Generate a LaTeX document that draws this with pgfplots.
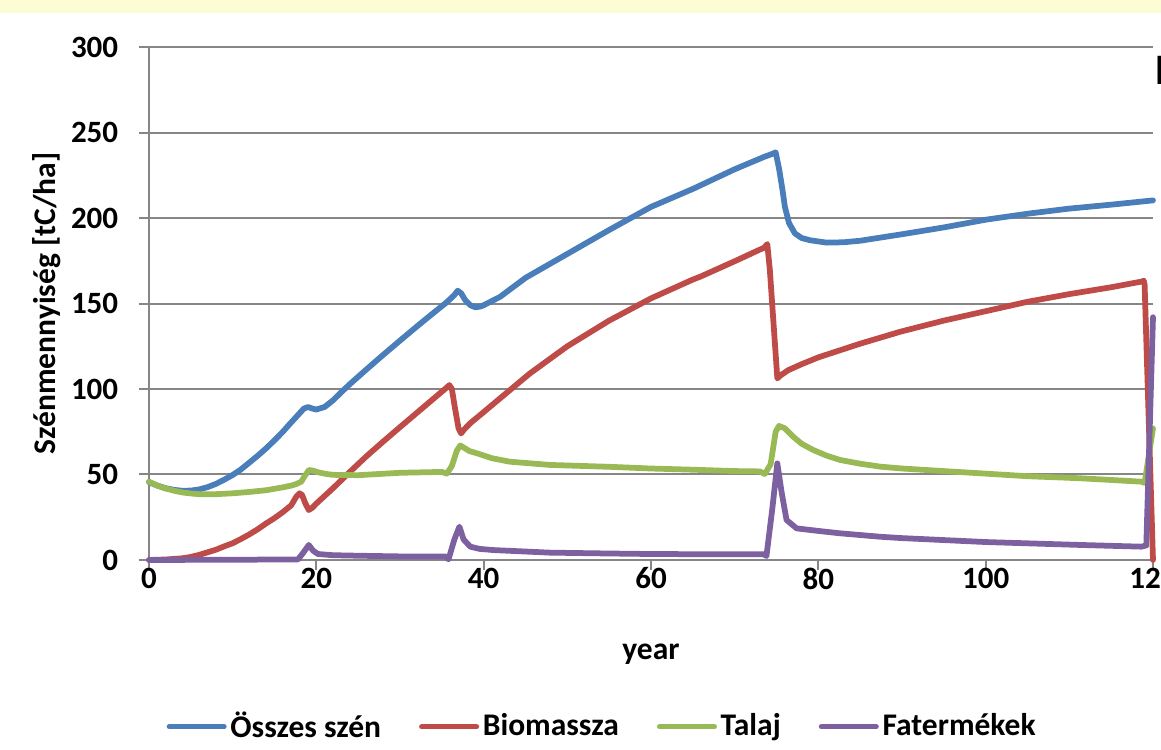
\documentclass[border=0pt]{standalone}
\usepackage{pgfplots}
\pgfplotsset{compat=1.18}
\usepackage{fontspec}
\setmainfont{Carlito}
\definecolor{cBlue}{RGB}{74,126,187}
\definecolor{cRed}{RGB}{190,75,72}
\definecolor{cGreen}{RGB}{152,185,84}
\definecolor{cPurple}{RGB}{125,96,160}
\definecolor{cGrid}{RGB}{134,134,134}
\definecolor{cBand}{RGB}{252,253,213}
\begin{document}
\begin{tikzpicture}
\path[use as bounding box] (-59.6pt,-76pt) rectangle (404.8pt,224pt);
\fill[cBand] (-59.6pt,218.8pt) rectangle (404.8pt,224pt);
\begin{axis}[
  at={(0pt,0pt)}, anchor=south west,
  width=401.6pt, height=205.2pt, scale only axis,
  xmin=0, xmax=120, ymin=0, ymax=300,
  xtick={0,20,...,120}, ytick={0,50,...,300},
  axis lines=left, axis line style={-, draw=cGrid, line width=0.8pt},
  ymajorgrids, grid style={cGrid, line width=0.8pt},
  tick align=outside, major tick length=4pt,
  tick style={cGrid, line width=0.8pt},
  ticklabel style={font=\bfseries\fontsize{12.4}{14}\selectfont},
  yticklabel style={xshift=-4.8pt},
  xticklabel style={yshift=4.4pt},
  /pgf/number format/assume math mode=true,
  clip=false,
  legend columns=4,
  legend style={at={(axis description cs:0.4504,-0.325)}, anchor=center,
    draw=none, fill=none,
    font=\bfseries\fontsize{12.6}{14}\selectfont,
    nodes={inner xsep=0pt, inner ysep=2pt},
    /tikz/every odd column/.append style={column sep=1.5pt},
    /tikz/every even column/.append style={column sep=15.2pt}},
  legend image code/.code={\draw[#1, line width=2pt, line cap=round] (0pt,0pt) -- (22pt,0pt);},
  every axis plot/.append style={line width=2.3pt, line join=round, line cap=round},
]
% Osszes szen
\addplot[cBlue] coordinates {
(0,45.5) (1,43.5) (2,42) (3,41) (4,40.5) (5,40.6) (6,41.3) (7,42.6) (8,44.5) (9,47)
(10,49.7) (11,53) (12,57) (13,61) (14,65.3) (15,70) (16,75) (17,80.5) (18,85.8)
(18.5,88.5) (19,89.5) (19.5,88.6) (20,88) (21,89.5) (22,93.4) (23,98.2) (24,102.8)
(26,111.5) (28,120) (30,128.3) (32,136.5) (34,144.5) (35.4,150) (36,152.6) (36.5,155)
(36.9,157.5) (37.3,156) (37.8,152) (38.4,149) (39,147.8) (39.6,148.2) (40,149)
(42,154) (45,165) (50,179) (55,193) (60,206.5) (65,217) (66,219.3) (70,228.5)
(73.6,235.9) (74.5,237.5) (74.9,238.4) (75.3,229) (75.7,217) (76,206.6) (76.5,197)
(77.2,191) (78,188.3) (79,187) (81,185.6) (83,185.8) (85,186.7) (90,190.5)
(95,194.5) (100,199) (105,202.5) (110,205.5) (115,207.8) (120,210.3)
};
\addlegendentry{Összes szén}
% Biomassza
\addplot[cRed] coordinates {
(0,0) (2,0.3) (4,1) (5,1.8) (6,3) (7,4.5) (8,6) (9,8) (10,9.8) (11,12.3) (12,15)
(13,18) (14,21.4) (15,24.5) (16,28) (17,32) (17.6,37) (18,39) (18.3,38) (18.7,33)
(19.1,29.2) (19.5,30.5) (20,33) (22,42) (24,51.5) (26,60.7) (28,69.3) (30,77.7)
(32,86) (34,94.3) (35.5,100.5) (35.9,102.3) (36.2,100) (36.6,88) (37,77) (37.3,74)
(37.7,76.5) (38.4,80) (40,86.5) (42,94.7) (45.5,109) (50,125) (55,140) (60,153)
(65,164) (65.9,165.7) (70,174.7) (73,181.5) (73.5,182.5) (73.9,184.8) (74.2,170)
(75.1,106.2) (75.5,108) (76.4,111) (78,114.5) (80,118.5) (85,126.5) (89.8,133.5)
(95,140) (100,145.5) (105,151) (110,155.5) (115,159.5) (118.6,162.8) (118.9,163.3)
(119,161) (120,0)
};
\addlegendentry{Biomassza}
% Talaj
\addplot[cGreen] coordinates {
(0,45.8) (1,43.5) (2,41.8) (3,40.5) (4,39.5) (5,38.9) (6,38.5) (7,38.4) (8,38.5)
(10,39) (12,39.8) (14,40.8) (16,42.5) (17,43.5) (17.6,44.4) (18.2,45.8) (18.6,49)
(19.1,52.6) (19.6,52.3) (20.2,51.3) (21.2,50.3) (22,49.8) (25,49.6) (30,51)
(35,51.5) (35.6,50.5) (36.2,55) (36.8,64) (37.2,67) (37.7,65.5) (38.3,63.7)
(39.2,62.4) (41,59.5) (43.1,57.5) (47.9,55.6) (55,54.5) (60,53.5) (65,52.8)
(70,52) (73,51.8) (73.6,50.3) (74.3,56) (74.9,75) (75.3,78.4) (76,77) (77,72.1)
(78,68) (79.4,64.3) (81,61) (82.6,58.5) (85,56.3) (87.4,54.6) (90,53.5) (95,52)
(100,50.5) (105,49) (111.3,47.8) (115,46.8) (118.6,45.8) (119,45.1) (120,77)
};
\addlegendentry{Talaj}
% Fatermekek
\addplot[cPurple] coordinates {
(0,0) (17.8,0.3) (18.4,4) (19.1,8.8) (19.6,5.5) (20.2,3.5) (22,2.8) (25,2.5)
(30,2.1) (35.4,2.1) (35.8,0.4) (36.5,12) (37.1,19.5) (37.6,12) (38.4,7.8)
(39.5,6.5) (41.2,5.8) (47.9,4.3) (55,3.8) (60,3.5) (70,3.3) (73.5,3.3) (73.8,2.3)
(74.5,30) (75.1,56.5) (75.6,40) (76.2,23.4) (77.4,18.5) (80,17) (82.6,15.6)
(87.4,13.6) (90,12.8) (100,10.5) (111.3,8.8) (118.6,7.8) (119.2,8.5) (120,142)
};
\addlegendentry{Fatermékek}
\end{axis}
\node[rotate=90, font=\bfseries\fontsize{12.6}{14}\selectfont] at (-40.8pt,102.6pt) {Szénmennyiség [tC/ha]};
\node[font=\bfseries\fontsize{12.6}{14}\selectfont] at (200.8pt,-37.5pt) {year};
\node[anchor=base west, inner sep=0pt, font=\bfseries\fontsize{17.4}{20}\selectfont] at (402.6pt,190pt) {E};
\end{tikzpicture}
\end{document}
